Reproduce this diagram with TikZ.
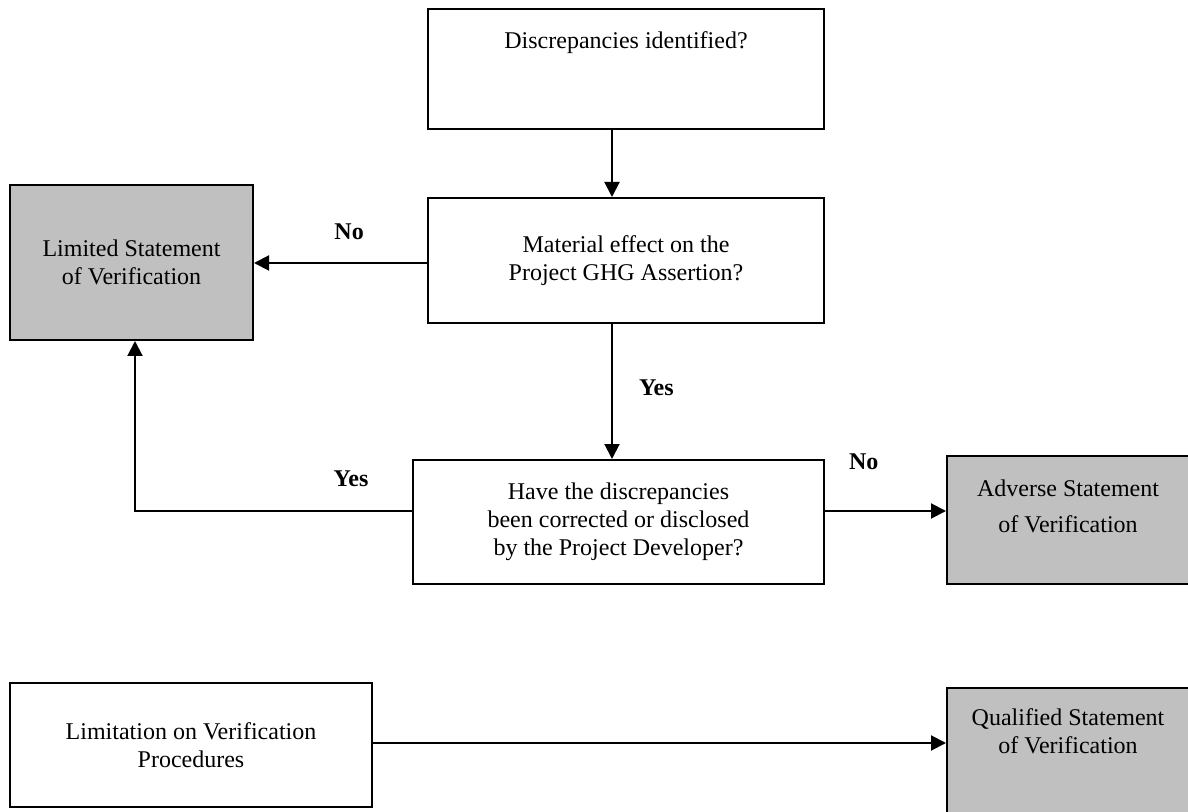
\documentclass[tikz,border=0pt]{standalone}
\usepackage{fontspec}
\setmainfont{Liberation Serif}
\usepackage{tikz}
\usetikzlibrary{shapes,arrows.meta,positioning,calc}
\usepackage{xcolor}
\definecolor{boxgray}{RGB}{192,192,192}
\tikzset{
    block/.style={rectangle, draw, fill=white, align=center, inner sep=0pt, font=\fontsize{12}{14}\selectfont, line width=1pt},
    result/.style={block, fill=boxgray},
    line/.style={draw, -{Triangle[length=7.5pt, width=7.5pt]}, line width=1pt},
    answer/.style={font=\fontsize{12}{14}\selectfont\bfseries, inner sep=0pt}
}
\begin{document}
\begin{tikzpicture}[x=0.5pt, y=-0.5pt]
    \useasboundingbox (0,0) rectangle (1188,812);
    \clip (0,0) rectangle (1188,812);

    \node [block, minimum width=198pt, minimum height=60pt] (ident) at (626,69) {Discrepancies identified?\\[15pt]\mbox{}};
    \node [block, below of=ident, node distance=95.75pt, minimum width=198pt, minimum height=62.5pt] (material) {Material effect on the\\Project GHG Assertion?};
    \node [result, left of=material, node distance=247.25pt, yshift=-1pt, minimum width=121.5pt, minimum height=77.5pt] (limited) {Limited Statement\\of Verification};
    \node [block, minimum width=205.5pt, minimum height=62pt] (corrected) at (618.5,522) {Have the discrepancies\\been corrected or disclosed\\by the Project Developer?};
    \node [result, right of=corrected, node distance=224.75pt, yshift=1pt, minimum width=121pt, minimum height=64pt] (adverse) {Adverse Statement\\[4pt]of Verification\\\mbox{}};
    \node [block, minimum width=181pt, minimum height=62pt] (limitation) at (191,745) {Limitation on Verification\\Procedures};
    \node [result, right of=limitation, node distance=438.5pt, yshift=-3.25pt, minimum width=121pt, minimum height=64pt] (qualified) {Qualified Statement\\of Verification\\[6pt]\mbox{}};

    \path [line] ([xshift=-7pt]ident.south) -- ([xshift=-7pt]material.north);
    \path [line] ([yshift=-1.25pt]material.west) -- node [answer, pos=0.45, above=11pt] {No} ([yshift=-1.25pt]material.west -| limited.east);
    \path [line] ([xshift=-7pt]material.south) -- node [answer, pos=0.47, right=13pt] {Yes} ([xshift=-7pt]material.south |- corrected.north);
    \path [line] ([yshift=5.5pt]corrected.west) -| node [answer, pos=0.11, above=11.5pt] {Yes} ([xshift=1.75pt]limited.south);
    \path [line] ([yshift=5.5pt]corrected.east) -- node [answer, pos=0.32, above=20pt] {No} ([yshift=5.5pt]corrected.east -| adverse.west);
    \path [line] ([yshift=1pt]limitation.east) -- ([yshift=1pt]limitation.east -| qualified.west);
\end{tikzpicture}
\end{document}
